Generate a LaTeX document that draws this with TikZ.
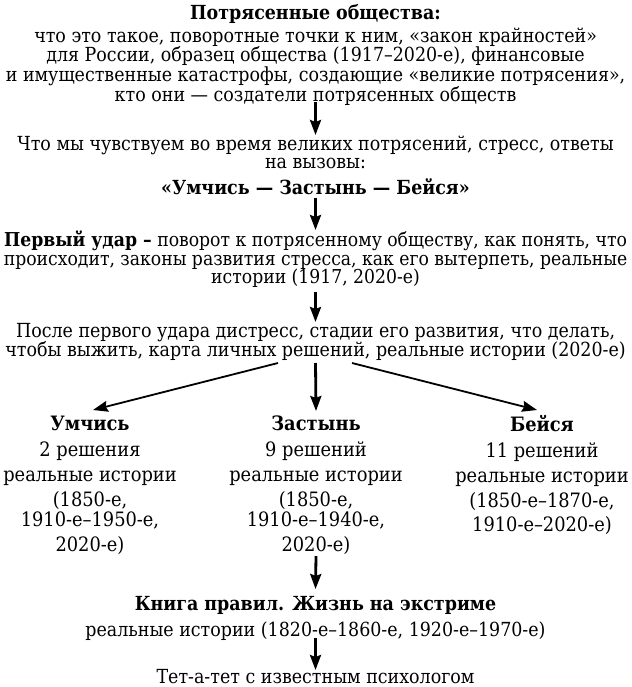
\documentclass[tikz,border=0pt]{standalone}
\usepackage{fontspec}
\setmainfont{DejaVu Serif Condensed}
\usetikzlibrary{arrows.meta}
\newcommand\Ftop{\rule{0pt}{15pt}}
\newcommand\Fbot{\rule[-5pt]{0pt}{5pt}}
\setlength{\lineskiplimit}{-40pt}
\begin{document}
\begin{tikzpicture}[x=1pt,y=-1pt,
  blk/.style 2 args={align=center,inner sep=0pt,outer sep=0pt,anchor=north,
    font=\fontsize{#1}{#2}\selectfont},
  arr/.style={draw=black,line width=2.8pt,-{Stealth[length=15pt,width=11pt,inset=2pt]}},
  brr/.style={draw=black,line width=1.8pt,-{Stealth[length=15pt,width=11pt,inset=2pt]}}]
\useasboundingbox[fill=white] (0,0) rectangle (631,687);

\node[blk={19.4}{19.7}] (A) at (315.5,4) {\Ftop\textbf{Потрясенные общества:}\\[3.3pt]
что это такое, поворотные точки к ним, «закон крайностей»\\
для России, образец общества (1917–2020-е), финансовые\\
и имущественные катастрофы, создающие «великие потрясения»,\\
кто они — создатели потрясенных обществ\Fbot};

\node[blk={19.4}{18}] (B) at (315.5,135) {\Ftop Что мы чувствуем во время великих потрясений, стресс, ответы\\
на вызовы:\\[8pt]
\textbf{«Умчись — Застынь — Бейся»}\Fbot};

\node[blk={19.15}{18.5}] (C) at (315.5,231) {\Ftop\textbf{Первый удар –} поворот к потрясенному обществу, как понять, что\\
происходит, законы развития стресса, как его вытерпеть, реальные\\
истории (1917, 2020-е)\Fbot};

\node[blk={19.4}{19}] (D) at (315.5,322) {\Ftop После первого удара дистресс, стадии его развития, что делать,\\
чтобы выжить, карта личных решений, реальные истории (2020-е)\Fbot};

\node[blk={19.8}{25}] (L) at (90,415) {\Ftop\textbf{Умчись}\\[1pt]
2 решения\\
реальные истории\\
(1850-е,\\[-5pt]
1910-е–1950-е,\\
2020-е)\Fbot};

\node[blk={19.8}{25}] (M) at (316,415) {\Ftop\textbf{Застынь}\\[1pt]
9 решений\\
реальные истории\\
(1850-е,\\[-5pt]
1910-е–1940-е,\\
2020-е)\Fbot};

\node[blk={19.8}{25}] (R) at (542,415) {\Ftop\textbf{Бейся}\\[1pt]
11 решений\\
реальные истории\\
(1850-е–1870-е,\\[-1pt]
1910-е–2020-е)\Fbot};

\node[blk={19.4}{26}] (F) at (315.5,595) {\Ftop\textbf{Книга правил. Жизнь на экстриме}\\
реальные истории (1820-е–1860-е, 1920-е–1970-е)\Fbot};

\node[blk={19.4}{20}] (G) at (315.5,668) {\Ftop Тет-а-тет с известным психологом};

\draw[arr] ([yshift=4pt]A.south) -- (B.north);
\draw[arr] ([yshift=1pt]B.south) -- ([yshift=1pt]C.north);
\draw[arr] ([yshift=-3pt]C.south) -- (D.north);
\draw[brr] ([xshift=-37.5pt,yshift=-2pt]D.south) -- ([xshift=3pt,yshift=5pt]L.north);
\draw[arr] ([yshift=-2pt]D.south) -- ([yshift=4pt]M.north);
\draw[brr] ([xshift=36.5pt,yshift=-2pt]D.south) -- ([xshift=-5pt,yshift=5pt]R.north);
\draw[arr] (M.south) -- ([yshift=6pt]F.north);
\draw[arr] ([yshift=3pt]F.south) -- ([yshift=-2pt]G.north);
\end{tikzpicture}
\end{document}
